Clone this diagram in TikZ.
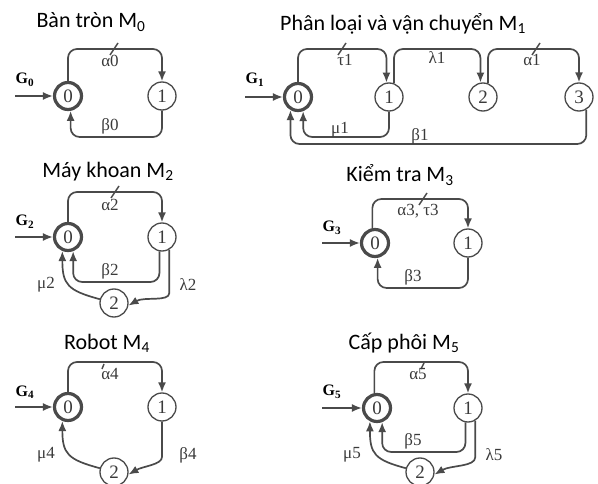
\documentclass[tikz,border=0pt]{standalone}
\usepackage{fontspec}
\setmainfont{Liberation Serif}
\newfontfamily\titlefont{Carlito}
\usetikzlibrary{arrows.meta}
\definecolor{linec}{HTML}{4A4A4A}
\definecolor{labc}{HTML}{3A3A3A}
\tikzset{
  stnode/.style = {circle, draw = linec, line width = 1.3pt, minimum size = 28pt, inner sep = 0pt, text = labc, font = \fontsize{19}{19}\selectfont},
  initnode/.style = {stnode, line width = 3.2pt, minimum size = 27pt},
  edge/.style = {draw = linec, line width = 1.7pt, rounded corners = 9pt, -{Latex[length = 10pt, width = 8pt]}},
  lbl/.style = {text = labc, font = \fontsize{17}{17}\selectfont, inner sep = 0pt},
  gname/.style = {font = \bfseries\fontsize{16}{16}\selectfont, inner sep = 0pt},
  ttl/.style = {font = \titlefont\fontsize{22}{22}\selectfont, inner sep = 0pt},
  tick/.style = {draw = linec, line width = 1.4pt}
}

\begin{document}
\begin{tikzpicture}[x = 1pt, y = -1pt]
\useasboundingbox (0,0) rectangle (598,484);

%M0
\node (t0) [ttl] at (91,22) {Bàn tròn M\textsubscript{0}};
\node (g0) [gname] at (25,80) {G\textsubscript{0}};
\coordinate (g0in) at (15,96);
\node (m0s0) [initnode] at (68,96) {0};
\node (m0s1) [stnode] at (162,96) {1};
\draw [edge] (g0in) -- (m0s0);
\draw [edge] (m0s0.north) -- (m0s0.north |- 0,49) -| (m0s1.north);
\draw [edge] (m0s1.south) -- (m0s1.south |- 0,137) -| (m0s0.-80);
\draw [tick] (114,49) ++(-4,6) -- ++(8,-12);
\node (a0) [lbl] at (110,61) {α0};
\node (b0) [lbl] at (110,126) {β0};

%M1
\node (t1) [ttl] at (403,24) {Phân loại và vận chuyển M\textsubscript{1}};
\node (g1) [gname] at (255,80) {G\textsubscript{1}};
\coordinate (g1in) at (245,97);
\node (m1s0) [initnode] at (298,97) {0};
\node (m1s1) [stnode] at (389,97) {1};
\node (m1s2) [stnode] at (483,97) {2};
\node (m1s3) [stnode] at (579,97) {3};
\draw [edge] (g1in) -- (m1s0);
\draw [edge] (m1s0.north) -- (m1s0.north |- 0,49) -| (m1s1.100);
\draw [edge] (m1s1.70) -- (m1s1.70 |- 0,49) -| (m1s2.100);
\draw [edge] (m1s2.70) -- (m1s2.70 |- 0,49) -| (m1s3.north);
\draw [edge] (m1s1.south) -- (m1s1.south |- 0,137) -| (m1s0.-70);
\draw [edge] (m1s3.-60) -- (m1s3.-60 |- 0,144) -| (m1s0.-120);
\draw [tick] (342,49) ++(-4,6) -- ++(8,-12);
\draw [tick] (536,49) ++(-4,6) -- ++(8,-12);
\node (ta1) [lbl] at (345,60) {τ1};
\node (la1) [lbl] at (437,58) {λ1};
\node (a1) [lbl] at (532,60) {α1};
\node (mu1) [lbl] at (340,130) {μ1};
\node (b1) [lbl] at (420,136) {β1};

%M2
\node (t2) [ttl] at (108,172) {Máy khoan M\textsubscript{2}};
\node (g2) [gname] at (25,222) {G\textsubscript{2}};
\coordinate (g2in) at (15,237);
\node (m2s0) [initnode] at (68,237) {0};
\node (m2s1) [stnode] at (162,237) {1};
\node (m2s2) [stnode] at (114,303) {2};
\draw [edge] (g2in) -- (m2s0);
\draw [edge] (m2s0.north) -- (m2s0.north |- 0,192) -| (m2s1.north);
\draw [edge] (m2s1.-100) -- (m2s1.-100 |- 0,282) -| (m2s0.-70);
\draw [edge] (m2s1.-60) -- (m2s1.-60 |- 0,284) to[out = -90, in = 30] (m2s2.-10);
\draw [edge] (m2s2.165) to[out = 165, in = -90, looseness = 1.4] (m2s0.-112);
\draw [tick] (115,192) ++(-4,6) -- ++(8,-12);
\node (a2) [lbl] at (110,205) {α2};
\node (b2) [lbl] at (110,271) {β2};
\node (la2) [lbl] at (188,285) {λ2};
\node (mu2) [lbl] at (46,285) {μ2};

%M3
\node (t3) [ttl] at (400,175) {Kiểm tra M\textsubscript{3}};
\node (g3) [gname] at (332,228) {G\textsubscript{3}};
\coordinate (g3in) at (322,243);
\node (m3s0) [initnode] at (375,243) {0};
\node (m3s1) [stnode] at (468,243) {1};
\draw [edge] (g3in) -- (m3s0);
\draw [edge] (m3s0.100) -- (m3s0.100 |- 0,199) -| (m3s1.north);
\draw [edge] (m3s1.south) -- (m3s1.south |- 0,288) -| (m3s0.-80);
\draw [tick] (423,199) ++(-4,6) -- ++(8,-12);
\node (a3) [lbl] at (418,211) {α3, τ3};
\node (b3) [lbl] at (413,277) {β3};

%M4
\node (t4) [ttl] at (107,343) {Robot M\textsubscript{4}};
\node (g4) [gname] at (25,392) {G\textsubscript{4}};
\coordinate (g4in) at (15,407);
\node (m4s0) [initnode] at (68,407) {0};
\node (m4s1) [stnode] at (162,407) {1};
\node (m4s2) [stnode] at (114,472) {2};
\draw [edge] (g4in) -- (m4s0);
\draw [edge] (m4s0.north) -- (m4s0.north |- 0,362) -| (m4s1.north);
\draw [edge] (m4s1.south) -- (m4s1.south |- 0,448) to[out = -90, in = 30] (m4s2.-10);
\draw [edge] (m4s2.165) to[out = 165, in = -90, looseness = 1.4] (m4s0.-112);
\draw [tick] (104,364) -- ++(-2,5);
\node (a4) [lbl] at (110,374) {α4};
\node (b4) [lbl] at (188,455) {β4};
\node (mu4) [lbl] at (46,455) {μ4};

%M5
\node (t5) [ttl] at (404,343) {Cấp phôi M\textsubscript{5}};
\node (g5) [gname] at (332,392) {G\textsubscript{5}};
\coordinate (g5in) at (322,408);
\node (m5s0) [initnode] at (377,408) {0};
\node (m5s1) [stnode] at (468,408) {1};
\node (m5s2) [stnode] at (420,472) {2};
\draw [edge] (g5in) -- (m5s0);
\draw [edge] (m5s0.100) -- (m5s0.100 |- 0,362) -| (m5s1.north);
\draw [edge] (m5s1.-100) -- (m5s1.-100 |- 0,452) -| (m5s0.-70);
\draw [edge] (m5s1.-60) -- (m5s1.-60 |- 0,448) to[out = -90, in = 30] (m5s2.-10);
\draw [edge] (m5s2.165) to[out = 165, in = -90, looseness = 1.4] (m5s0.-118);
\draw [tick] (424,363) -- ++(-3,6);
\node (a5) [lbl] at (418,374) {α5};
\node (b5) [lbl] at (413,441) {β5};
\node (la5) [lbl] at (494,455) {λ5};
\node (mu5) [lbl] at (352,455) {μ5};

\end{tikzpicture}
\end{document}
